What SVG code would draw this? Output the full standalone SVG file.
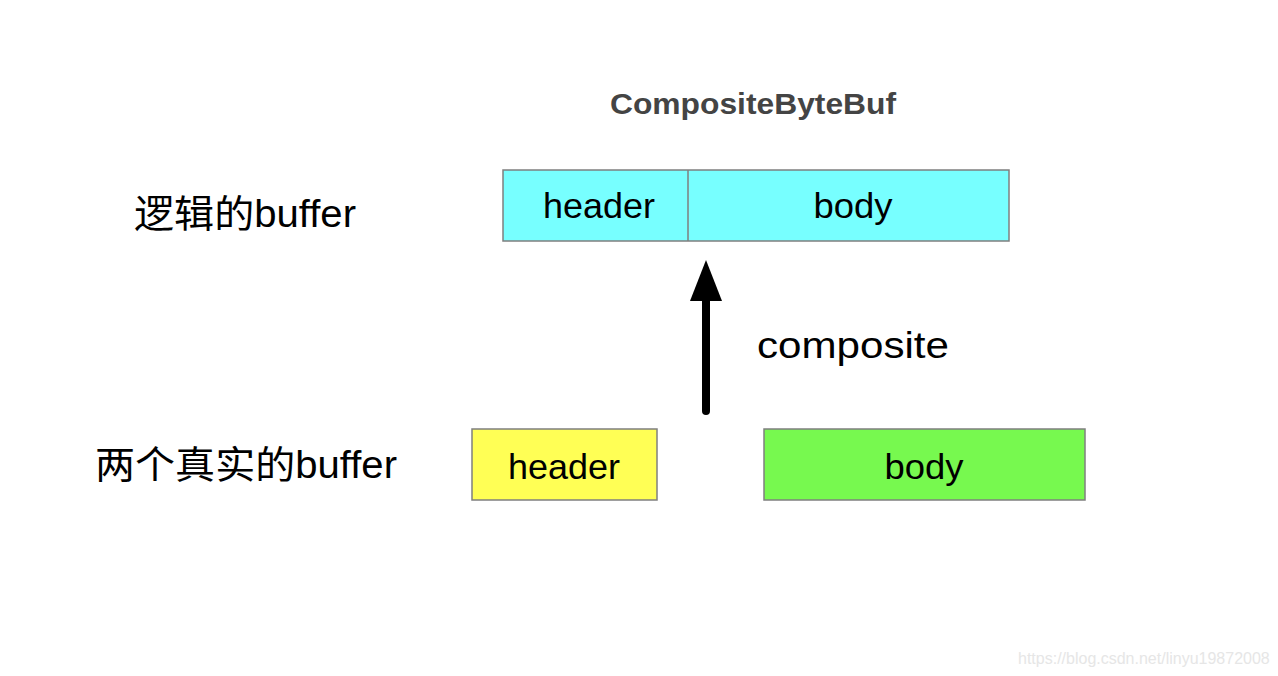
<svg xmlns="http://www.w3.org/2000/svg" width="1278" height="676" viewBox="0 0 1278 676">
<style>
.box{stroke:#7f7f7f;stroke-width:1.5}
.t{font-family:"Liberation Sans","Noto Sans CJK SC",sans-serif;fill:#000}
.lbl{font-size:35px;text-anchor:middle}
</style>
<rect width="1278" height="676" fill="#fff"/>
<text x="610" y="114" class="t" font-size="29" font-weight="bold" style="fill:#444" textLength="286" lengthAdjust="spacingAndGlyphs">CompositeByteBuf</text>
<text x="134" y="227" class="t" font-size="38" textLength="222" lengthAdjust="spacingAndGlyphs">逻辑的buffer</text>
<text x="95" y="478" class="t" font-size="38" textLength="302" lengthAdjust="spacingAndGlyphs">两个真实的buffer</text>
<g id="logical">
<rect x="503" y="170" width="506" height="71" fill="#77ffff" class="box"/>
<line x1="688" y1="170" x2="688" y2="241" class="box"/>
<text x="599" y="218" class="t lbl" textLength="112" lengthAdjust="spacingAndGlyphs">header</text>
<text x="853" y="218" class="t lbl" textLength="79" lengthAdjust="spacingAndGlyphs">body</text>
</g>
<g id="real-header">
<rect x="472" y="429" width="185" height="71" fill="#ffff55" class="box"/>
<text x="564" y="479" class="t lbl" textLength="112" lengthAdjust="spacingAndGlyphs">header</text>
</g>
<g id="real-body">
<rect x="764" y="429" width="321" height="71" fill="#77f94f" class="box"/>
<text x="924" y="479" class="t lbl" textLength="79" lengthAdjust="spacingAndGlyphs">body</text>
</g>
<g id="connectors">
<path d="M706,411 L706,300" stroke="#000" stroke-width="8" stroke-linecap="round" fill="none"/>
<path d="M690,301 L706,260 L722,301 Z" fill="#000"/>
</g>
<text x="757" y="358" class="t" font-size="37" textLength="192" lengthAdjust="spacingAndGlyphs">composite</text>
<text x="1018" y="664" font-family="Liberation Sans,sans-serif" font-size="16" fill="#e6e6e6">https://blog.csdn.net/linyu19872008</text>
</svg>
